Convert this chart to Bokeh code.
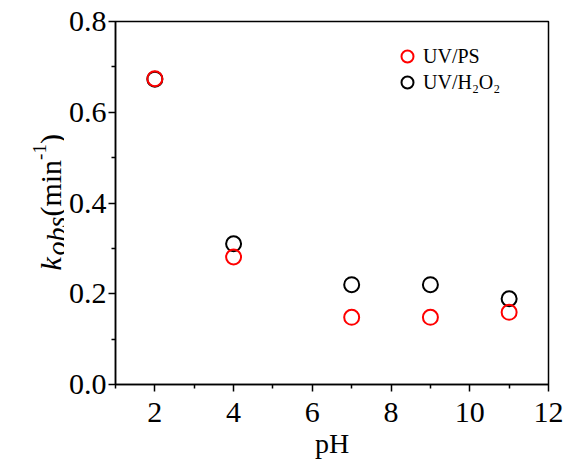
import math
from bokeh.plotting import figure
from bokeh.layouts import row
from bokeh.models import Range1d, FixedTicker, Legend, LegendItem, ColumnDataSource, NumeralTickFormatter
from bokeh.core.properties import value
from bokeh.embed import file_html
from bokeh.resources import INLINE

# ---- data ----
ph = [2, 4, 7, 9, 11]
uv_ps = [0.674, 0.281, 0.148, 0.148, 0.159]
uv_h2o2 = [0.673, 0.310, 0.220, 0.220, 0.189]
x_ticks = [2, 4, 6, 8, 10, 12]
x_minor = [1, 3, 5, 7, 9, 11]
y_ticks = [0.0, 0.2, 0.4, 0.6, 0.8]
y_minor = [0.1, 0.3, 0.5, 0.7]

FONT = "Liberation Serif"
W, H = 563, 462          # whole picture
LW = 64                  # width of the strip that carries the y-axis title
BL, BR, BT, BB = 115, 15, 21, 78   # frame borders in picture px
X0, X1, Y0, Y1 = 1, 12, 0.0, 0.8
frame_h = H - BT - BB

# ---- main plot ----
p = figure(width=W - LW, height=H, output_backend="svg", toolbar_location=None,
           x_range=Range1d(X0, X1), y_range=Range1d(Y0, Y1),
           min_border_left=BL - LW, min_border_right=BR, min_border_top=BT, min_border_bottom=BB)
p.background_fill_color = "white"
p.border_fill_color = "white"
p.outline_line_color = "black"
p.outline_line_width = 1.5
p.xgrid.visible = False
p.ygrid.visible = False

for ax in (p.xaxis[0], p.yaxis[0]):
    ax.axis_line_width = 1.5
    ax.axis_line_color = "black"
    ax.major_tick_line_width = 1.5
    ax.minor_tick_line_width = 1.5
    ax.major_tick_line_color = "black"
    ax.minor_tick_line_color = "black"
    ax.major_tick_out = 7
    ax.major_tick_in = 0
    ax.minor_tick_out = 4
    ax.minor_tick_in = 0
    ax.major_label_text_font = FONT
    ax.major_label_text_font_size = "30px"
    ax.major_label_text_color = "black"

p.xaxis.ticker = FixedTicker(ticks=x_ticks, minor_ticks=x_minor)
p.yaxis.ticker = FixedTicker(ticks=y_ticks, minor_ticks=y_minor)
p.yaxis.formatter = NumeralTickFormatter(format="0.0")
p.xaxis.major_label_standoff = 11
p.yaxis.major_label_standoff = 2

p.xaxis.axis_label = "pH"
p.xaxis.axis_label_text_font = FONT
p.xaxis.axis_label_text_font_size = "28px"
p.xaxis.axis_label_text_font_style = "normal"
p.xaxis.axis_label_text_color = "black"
p.xaxis.axis_label_standoff = 3

src = ColumnDataSource(dict(ph=ph, ps=uv_ps, h2o2=uv_h2o2))
r_h2o2 = p.scatter("ph", "h2o2", source=src, marker="circle", size=15,
                   fill_color=None, line_color="black", line_width=2)
r_ps = p.scatter("ph", "ps", source=src, marker="circle", size=15,
                 fill_color=None, line_color="red", line_width=2)

# ---- legends (two, to control row spacing) ----
def make_legend(label, rend, cx, cy):
    gw = 30
    loc = (cx - gw / 2 - BL, (BT + frame_h) - (cy + gw / 2))
    lg = Legend(items=[LegendItem(label=label, renderers=[rend])], location=loc,
                glyph_width=gw, glyph_height=gw, label_standoff=1,
                label_text_font=FONT, label_text_font_size="20px", label_text_color="black",
                padding=0, margin=0, border_line_color=None, background_fill_alpha=0,
                label_height=20)
    p.add_layout(lg)

make_legend("UV/PS", r_ps, 407, 56)
make_legend("UV/H\u2082O\u2082", r_h2o2, 407, 82)

# ---- strip with the rotated y-axis title, built from pieces ----
# its frame is aligned with the main frame (same top/bottom borders);
# y values are picture px measured upward from the frame bottom
t = figure(width=LW, height=H, output_backend="svg", toolbar_location=None,
           x_range=Range1d(0, LW), y_range=Range1d(0, frame_h),
           x_axis_location=None, y_axis_location=None,
           min_border_left=0, min_border_right=0, min_border_top=BT, min_border_bottom=BB)
t.outline_line_color = None
t.background_fill_color = "white"
t.border_fill_color = "white"
t.xgrid.visible = False
t.ygrid.visible = False

base_x = 50          # baseline position (picture px)
start_y = 270        # bottom end of the title (picture px from top)
pieces = [  # text, size, italic, baseline shift (px, + = raised), advance in em
    ("k", 30, True, 0, 0.50),
    ("obs", 28, True, -6, 1.389),
    ("(min", 30, False, 0, 1.889),
    ("-1", 19, False, 11, 0.833),
    (")", 30, False, 0, 0.333),
]
cy = start_y
for txt, fs, ital, shift, wem in pieces:
    t.text(x=[base_x - shift], y=[(BT + frame_h) - cy], text=[txt], angle=math.pi / 2,
           text_font=value(FONT), text_font_size=value(f"{fs}px"),
           text_font_style="italic" if ital else "normal",
           text_align="left", text_baseline="alphabetic", text_color="black")
    cy -= wem * fs

layout = row(t, p, spacing=0)
open("out.html", "w").write(file_html(layout, INLINE))
